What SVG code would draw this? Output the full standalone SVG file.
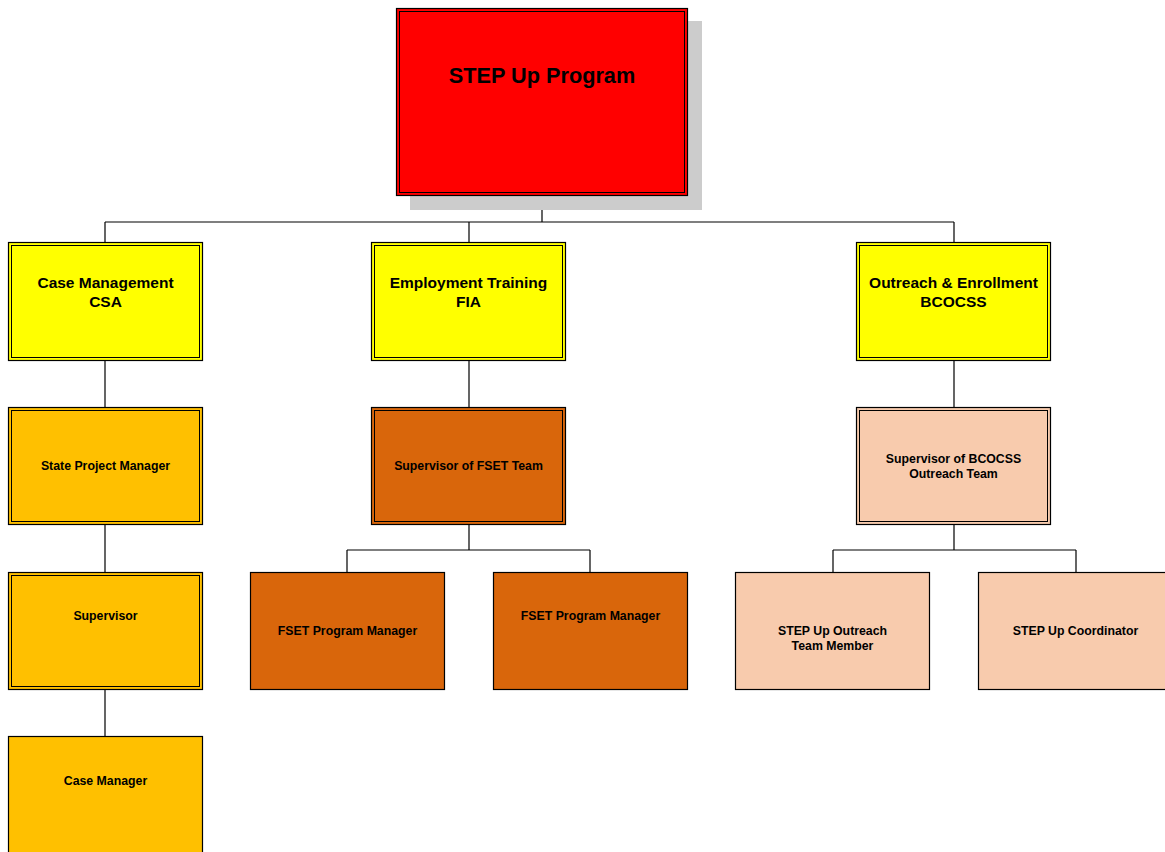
<svg xmlns="http://www.w3.org/2000/svg" width="1165" height="852" viewBox="0 0 1165 852">
<style>
.o{stroke:#000;stroke-width:1.2}
.i{fill:none;stroke:#000;stroke-width:1}
.t{font-family:"Liberation Sans",Arial,sans-serif;font-weight:bold;fill:#000;text-anchor:middle}
.t1{font-size:15.5px}
.t2{font-size:12.3px}
.c{fill:none;stroke:#000;stroke-width:1.2}
</style>
<rect width="1165" height="852" fill="#fff"/>
<g id="connectors">
<path class="c" d="M542 196V222M105 222H954M105 222V242M469 222V242M954 222V242"/>
<path class="c" d="M105 361V407M105 525V572M105 690V736"/>
<path class="c" d="M469 361V407M469 525V550M347 550H590M347 550V572M590 550V572"/>
<path class="c" d="M954 361V407M954 525V550M833 550H1076M833 550V572M1076 550V572"/>
</g>
<g id="root">
<rect x="410" y="21" width="292" height="189" fill="#cccccc"/>
<rect class="o" x="396.5" y="8.5" width="291" height="187" fill="#ff0000"/>
<rect class="i" x="399.5" y="11.5" width="285" height="181"/>
<text class="t" x="542" y="83" font-size="21.7px">STEP Up Program</text>
</g>
<g id="case-management">
<rect class="o" x="8.5" y="242.5" width="194" height="118" fill="#ffff00"/>
<rect class="i" x="11.5" y="245.5" width="188" height="112"/>
<text class="t t1" x="105.5" y="288">Case Management</text>
<text class="t t1" x="105.5" y="307">CSA</text>
</g>
<g id="employment-training">
<rect class="o" x="371.5" y="242.5" width="194" height="118" fill="#ffff00"/>
<rect class="i" x="374.5" y="245.5" width="188" height="112"/>
<text class="t t1" x="468.5" y="288">Employment Training</text>
<text class="t t1" x="468.5" y="307">FIA</text>
</g>
<g id="outreach-enrollment">
<rect class="o" x="856.5" y="242.5" width="194" height="118" fill="#ffff00"/>
<rect class="i" x="859.5" y="245.5" width="188" height="112"/>
<text class="t t1" x="953.5" y="288">Outreach &amp; Enrollment</text>
<text class="t t1" x="953.5" y="307">BCOCSS</text>
</g>
<g id="state-project-manager">
<rect class="o" x="8.5" y="407.5" width="194" height="117" fill="#ffc000"/>
<rect class="i" x="11.5" y="410.5" width="188" height="111"/>
<text class="t t2" x="105.5" y="470">State Project Manager</text>
</g>
<g id="supervisor-fset">
<rect class="o" x="371.5" y="407.5" width="194" height="117" fill="#d9660b"/>
<rect class="i" x="374.5" y="410.5" width="188" height="111"/>
<text class="t t2" x="468.5" y="470">Supervisor of FSET Team</text>
</g>
<g id="supervisor-bcocss">
<rect class="o" x="856.5" y="407.5" width="194" height="117" fill="#f8cbad"/>
<rect class="i" x="859.5" y="410.5" width="188" height="111"/>
<text class="t t2" x="953.5" y="463">Supervisor of BCOCSS</text>
<text class="t t2" x="953.5" y="478">Outreach Team</text>
</g>
<g id="supervisor">
<rect class="o" x="8.5" y="572.5" width="194" height="117" fill="#ffc000"/>
<rect class="i" x="11.5" y="575.5" width="188" height="111"/>
<text class="t t2" x="105.5" y="620">Supervisor</text>
</g>
<g id="fset-pm-1">
<rect class="o" x="250.5" y="572.5" width="194" height="117" fill="#d9660b"/>
<text class="t t2" x="347.5" y="635">FSET Program Manager</text>
</g>
<g id="fset-pm-2">
<rect class="o" x="493.5" y="572.5" width="194" height="117" fill="#d9660b"/>
<text class="t t2" x="590.5" y="620">FSET Program Manager</text>
</g>
<g id="outreach-member">
<rect class="o" x="735.5" y="572.5" width="194" height="117" fill="#f8cbad"/>
<text class="t t2" x="832.5" y="635">STEP Up Outreach</text>
<text class="t t2" x="832.5" y="650">Team Member</text>
</g>
<g id="coordinator">
<rect class="o" x="978.5" y="572.5" width="194" height="117" fill="#f8cbad"/>
<text class="t t2" x="1075.5" y="635">STEP Up Coordinator</text>
</g>
<g id="case-manager">
<rect class="o" x="8.5" y="736.5" width="194" height="130" fill="#ffc000"/>
<text class="t t2" x="105.5" y="785">Case Manager</text>
</g>
</svg>
